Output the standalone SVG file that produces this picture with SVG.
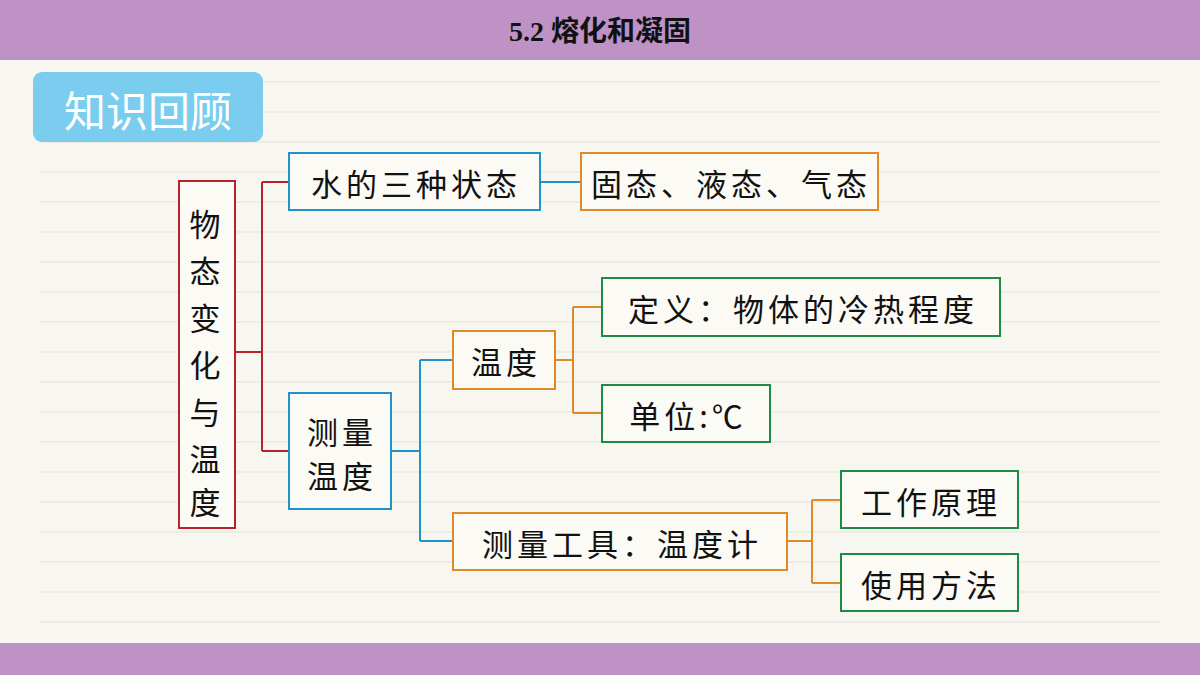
<svg xmlns="http://www.w3.org/2000/svg" width="1200" height="675" viewBox="0 0 1200 675">
<style>
.t{font-family:"Noto Sans CJK SC","Noto Sans",sans-serif;font-size:31px;fill:#111;text-anchor:middle;dominant-baseline:central;letter-spacing:4px}
.b{fill:#FBFAF5;stroke-width:2}
.red{stroke:#B8232B}.blue{stroke:#2193C8}.org{stroke:#E0892A}.grn{stroke:#1E8B45}
.c path{fill:none;stroke-width:2}
.rl{stroke:#E4E1DA;stroke-width:1}
</style>
<rect width="1200" height="675" fill="#F8F6F0"/>
<g class="rl">
<line x1="40" y1="82" x2="1160" y2="82"/><line x1="40" y1="112" x2="1160" y2="112"/><line x1="40" y1="142" x2="1160" y2="142"/><line x1="40" y1="172" x2="1160" y2="172"/><line x1="40" y1="202" x2="1160" y2="202"/><line x1="40" y1="232" x2="1160" y2="232"/><line x1="40" y1="262" x2="1160" y2="262"/><line x1="40" y1="292" x2="1160" y2="292"/><line x1="40" y1="322" x2="1160" y2="322"/><line x1="40" y1="352" x2="1160" y2="352"/><line x1="40" y1="382" x2="1160" y2="382"/><line x1="40" y1="412" x2="1160" y2="412"/><line x1="40" y1="442" x2="1160" y2="442"/><line x1="40" y1="472" x2="1160" y2="472"/><line x1="40" y1="502" x2="1160" y2="502"/><line x1="40" y1="532" x2="1160" y2="532"/><line x1="40" y1="562" x2="1160" y2="562"/><line x1="40" y1="592" x2="1160" y2="592"/><line x1="40" y1="622" x2="1160" y2="622"/>
</g>
<rect x="0" y="0" width="1200" height="60" fill="#BE92C4"/>
<rect x="0" y="643" width="1200" height="32" fill="#BE92C4"/>
<text x="600" y="31" font-family="'Liberation Serif','Noto Sans CJK SC',serif" font-weight="bold" font-size="28" text-anchor="middle" dominant-baseline="central" fill="#111">5.2 熔化和凝固</text>
<rect x="33" y="72" width="230" height="70" rx="9" fill="#7ACDEE"/>
<text x="148" y="108" font-family="'Noto Sans CJK SC',sans-serif" font-size="42" fill="#fff" text-anchor="middle" dominant-baseline="central">知识回顾</text>
<g class="c">
<path class="red" d="M235 352H262M262 182V451M262 182H289M262 451H289"/>
<path class="blue" d="M540 182H581"/>
<path class="blue" d="M391 451H420M420 360V541M420 360H453M420 541H453"/>
<path class="org" d="M555 360H573M573 307V413M573 307H602M573 413H602"/>
<path class="org" d="M787 541H812M812 500V583M812 500H841M812 583H841"/>
</g>
<g id="root"><rect class="b red" x="179" y="181" width="56" height="347"/>
<text class="t" x="207" y="222">物</text><text class="t" x="207" y="269">态</text><text class="t" x="207" y="316">变</text><text class="t" x="207" y="363">化</text><text class="t" x="207" y="410">与</text><text class="t" x="207" y="457">温</text><text class="t" x="207" y="500">度</text></g>
<g id="n1"><rect class="b blue" x="289" y="153" width="251" height="57"/><text class="t" x="416" y="182">水的三种状态</text></g>
<g id="n2"><rect class="b org" x="581" y="153" width="297" height="57"/><text class="t" x="731" y="182">固态、液态、气态</text></g>
<g id="n3"><rect class="b blue" x="289" y="393" width="102" height="116"/><text class="t" x="342" y="430">测量</text><text class="t" x="342" y="474">温度</text></g>
<g id="n4"><rect class="b org" x="453" y="331" width="102" height="58"/><text class="t" x="506" y="360">温度</text></g>
<g id="n5"><rect class="b grn" x="602" y="278" width="398" height="58"/><text class="t" x="803" y="307">定义：物体的冷热程度</text></g>
<g id="n6"><rect class="b grn" x="602" y="385" width="168" height="57"/><text class="t" x="688" y="414">单位:℃</text></g>
<g id="n7"><rect class="b org" x="453" y="513" width="334" height="57"/><text class="t" x="622" y="542">测量工具：温度计</text></g>
<g id="n8"><rect class="b grn" x="841" y="471" width="177" height="57"/><text class="t" x="931" y="500">工作原理</text></g>
<g id="n9"><rect class="b grn" x="841" y="554" width="177" height="57"/><text class="t" x="931" y="583">使用方法</text></g>
</svg>
